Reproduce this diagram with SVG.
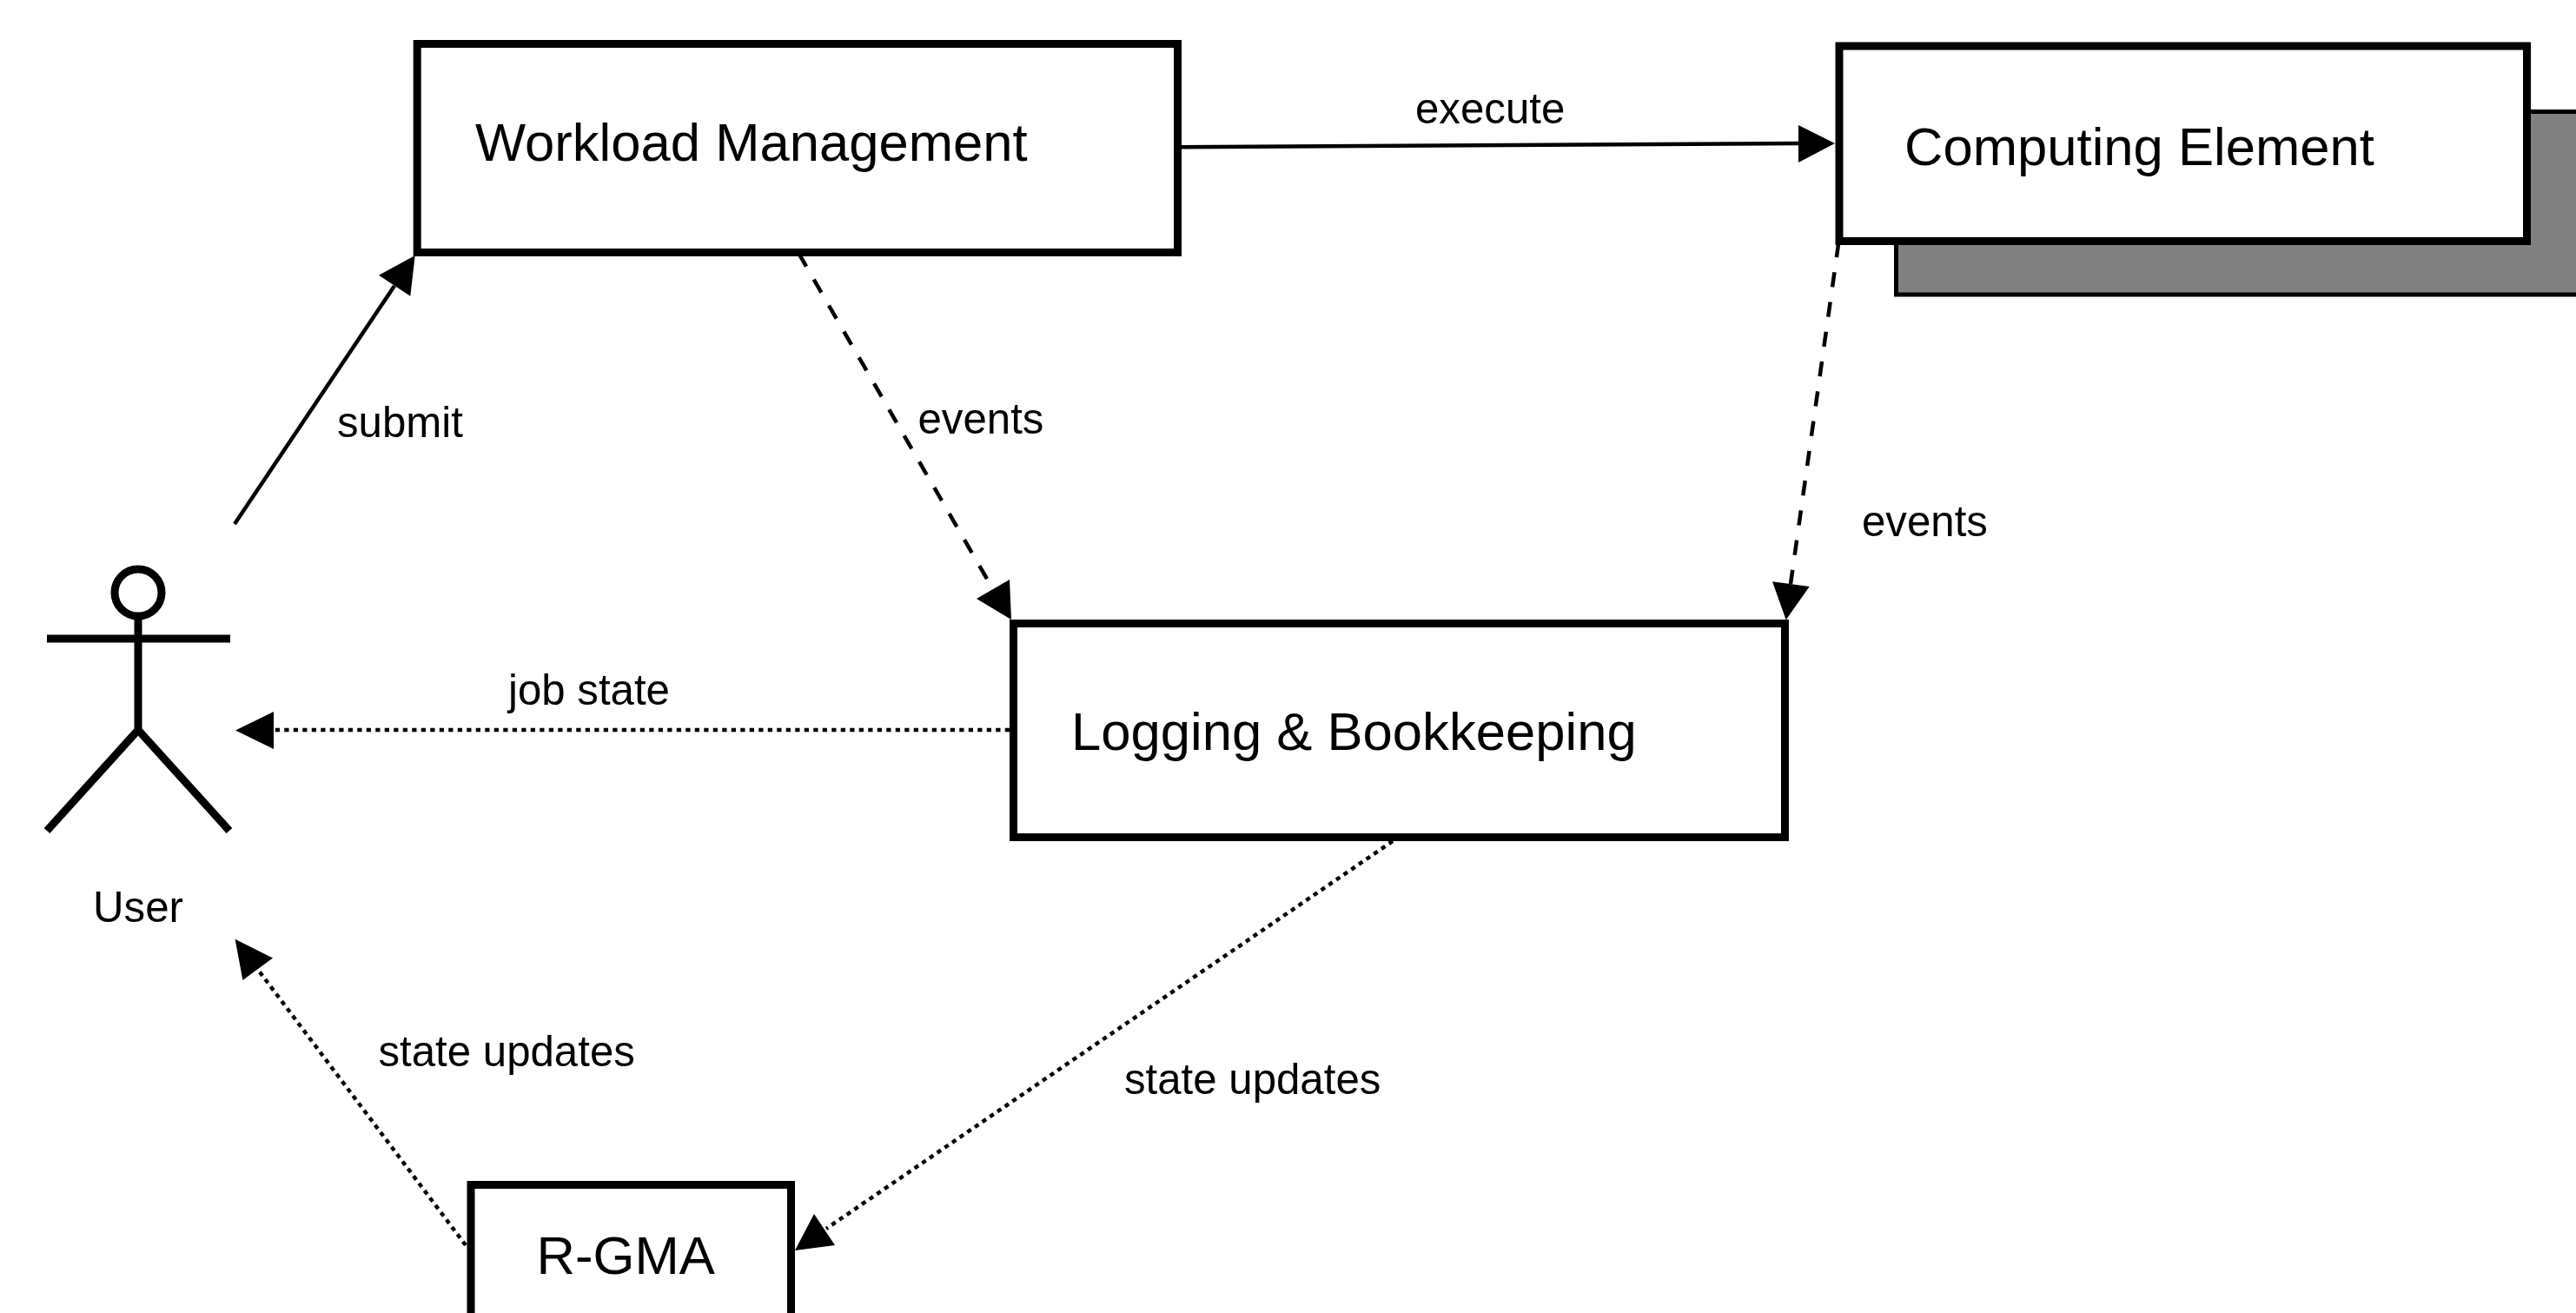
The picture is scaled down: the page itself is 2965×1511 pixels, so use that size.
<svg xmlns="http://www.w3.org/2000/svg" width="2965" height="1511" viewBox="0 0 2965 1511">
<style>
text{font-family:"Liberation Sans",Arial,sans-serif;fill:#000}
.t{font-size:61.6px}.l{font-size:49.2px}
.box{fill:#fff;stroke:#000;stroke-width:9}
.c{fill:none;stroke:#000;stroke-width:4.5}
.dash{stroke-dasharray:17.3 17.3}.dot{stroke-dasharray:5.25 5.25}
.a{fill:#000;stroke:none}
.s{fill:none;stroke:#000;stroke-width:9}
</style>
<rect width="2965" height="1511" fill="#fff"/>
<g id="connectors">
<path class="c" d="M270 603L454 329"/><path class="a" d="M477.7 294L436 316.7L472.3 340.7Z"/>
<path class="c" d="M1358 169.3L2072 165"/><path class="a" d="M2112 165L2070 144V187Z"/>
<path class="c dash" d="M919.4 291.7L1140 673"/><path class="a" d="M1164 713L1124 689L1162 667Z"/>
<path class="c dash" d="M2116.3 279L2061 672"/><path class="a" d="M2055.7 713.3L2040 669.3L2082.7 675Z"/>
<path class="c dot" d="M1162 840H316.5"/><path class="a" d="M271 840.5L315 819V862Z"/>
<path class="c dot" d="M1603 968L951 1414"/><path class="a" d="M915 1439L937 1397L961 1433Z"/>
<path class="c dot" d="M536 1433L297 1116"/><path class="a" d="M270.6 1080.7L314 1102.5L279.4 1128Z"/>
</g>
<g id="ce-shadow"><rect x="2182.5" y="128.5" width="800" height="210.5" fill="#808080" stroke="#000" stroke-width="5"/></g>
<g id="workload"><rect class="box" x="480.2" y="50.5" width="875.3" height="240"/><text class="t" x="547" y="185">Workload Management</text></g>
<g id="computing"><rect class="box" x="2117" y="53" width="791.5" height="224.5"/><text class="t" x="2192" y="190">Computing Element</text></g>
<g id="logging"><rect class="box" x="1166.5" y="717.5" width="888" height="246"/><text class="t" x="1233" y="862.5">Logging &amp; Bookkeeping</text></g>
<g id="rgma"><rect class="box" x="542" y="1363.5" width="368.5" height="200"/><text class="t" x="617.5" y="1466">R-GMA</text></g>
<g id="user"><circle class="s" cx="159" cy="682" r="27"/><path class="s" d="M159 709V840M54 735H265M159 840L54 956M159 840L264 956"/><text class="l" x="159" y="1061" text-anchor="middle">User</text></g>
<g id="labels">
<text class="l" x="388" y="503">submit</text>
<text class="l" x="1629" y="142">execute</text>
<text class="l" x="1056.5" y="498.5">events</text>
<text class="l" x="2143" y="616.5">events</text>
<text class="l" x="585" y="810.5">job state</text>
<text class="l" x="1294" y="1258.5">state updates</text>
<text class="l" x="435.5" y="1227">state updates</text>
</g>
</svg>
